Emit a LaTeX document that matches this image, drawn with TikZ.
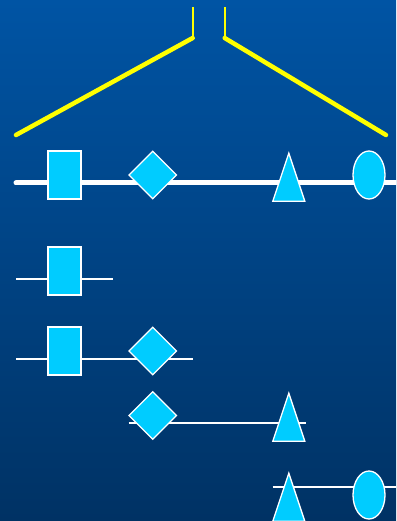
\documentclass[tikz,border=0pt]{standalone}
\usetikzlibrary{shapes.geometric}
\definecolor{bgtop}{RGB}{0,84,164}
\definecolor{bgbot}{RGB}{0,50,100}
\definecolor{unitfill}{RGB}{0,204,255}
\definecolor{linkyellow}{RGB}{255,255,0}
\tikzset{
  unit/.style={fill=unitfill, draw=white, line width=1.3pt, inner sep=0pt},
  boxunit/.style={unit, rectangle, minimum width=33pt, minimum height=48pt},
  diamondunit/.style={unit, diamond, minimum width=48pt, minimum height=48pt},
  ovalunit/.style={unit, ellipse, minimum width=32pt, minimum height=48pt},
  triunit/.style={unit, isosceles triangle, isosceles triangle stretches,
    shape border rotate=90, minimum width=32pt, minimum height=48pt, anchor=apex},
  backbone/.style={white, line width=5pt, line cap=round},
  strand/.style={white, line width=1.8pt},
  arm/.style={linkyellow, line width=4.5pt, line cap=round},
  stem/.style={linkyellow, line width=1.8pt}
}
\begin{document}
\begin{tikzpicture}[x=1pt, y=-1pt]
  % background
  \shade[top color=bgtop, bottom color=bgbot] (0,0) rectangle (396,521);
  \useasboundingbox (0,0) rectangle (396,521);
  \clip (0,0) rectangle (396,521);

  % yellow connector at top
  \coordinate (stemL top) at (192.7,7);
  \coordinate (stemL bot) at (192.7,38);
  \coordinate (stemR top) at (224.7,7);
  \coordinate (stemR bot) at (224.7,38);
  \coordinate (armL end) at (16,135);
  \coordinate (armR end) at (386,135);
  \draw[stem] (stemL top) -- (stemL bot);
  \draw[stem] (stemR top) -- (stemR bot);
  \draw[arm] (stemL bot) -- (armL end);
  \draw[arm] (stemR bot) -- (armR end);

  % full chain
  \coordinate (main start) at (16,183);
  \coordinate (main end) at (400,183);
  \draw[backbone] (main start) -- (main end);
  \node[boxunit] (m1) at (64.5,175) {};
  \node[diamondunit] (m2) at (152.7,175) {};
  \node[triunit] (m3) at (288.8,151.5) {};
  \node[ovalunit] (m4) at (369,175) {};

  % fragment 1
  \coordinate (f1 start) at (16,279);
  \coordinate (f1 end) at (113,279);
  \draw[strand] (f1 start) -- (f1 end);
  \node[boxunit] (a1) at (64.5,271) {};

  % fragment 2
  \coordinate (f2 start) at (16,359);
  \coordinate (f2 end) at (193,359);
  \draw[strand] (f2 start) -- (f2 end);
  \node[boxunit] (b1) at (64.5,351) {};
  \node[diamondunit] (b2) at (152.7,351) {};

  % fragment 3
  \coordinate (f3 start) at (128.5,423.3);
  \coordinate (f3 end) at (305.5,423.3);
  \draw[strand] (f3 start) -- (f3 end);
  \node[diamondunit] (c1) at (152.7,415.5) {};
  \node[triunit] (c2) at (288.8,391.5) {};

  % fragment 4
  \coordinate (f4 start) at (272.5,487.3);
  \coordinate (f4 end) at (400,487.3);
  \draw[strand] (f4 start) -- (f4 end);
  \node[triunit] (d1) at (288.8,471.5) {};
  \node[ovalunit] (d2) at (369,495) {};
\end{tikzpicture}
\end{document}
